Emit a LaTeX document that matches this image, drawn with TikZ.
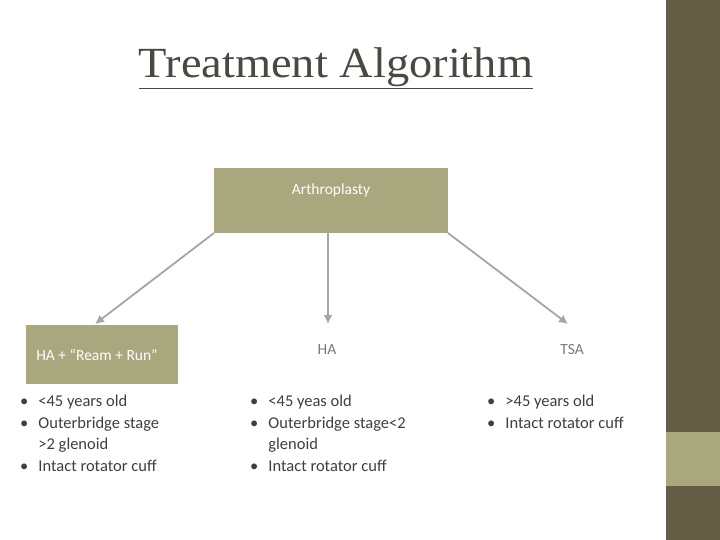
\documentclass[tikz,border=0pt]{standalone}
\usepackage{fontspec}
\setmainfont{Carlito}
\newfontfamily\titlefont{Liberation Serif}
\begin{document}
\begin{tikzpicture}[x=1pt,y=-1pt,
  box/.style={fill=tan,draw=none,inner sep=0pt},
  arr/.style={draw=gray!70,line width=1.8pt,-{Latex[length=9pt,width=9pt]}},
  lbl/.style={text=white,font=\fontsize{15.5}{18}\selectfont},
  blt/.style={text=txt,font=\fontsize{16.5}{21.7}\selectfont,align=left,anchor=north west,inner sep=0pt}]
\usetikzlibrary{arrows.meta}
\definecolor{tan}{HTML}{A9A77D}
\definecolor{dark}{HTML}{655D45}
\definecolor{txt}{HTML}{3F3F3F}
\useasboundingbox (0,0) rectangle (720,540);
\fill[white] (0,0) rectangle (720,540);
\fill[dark] (666,0) rectangle (720,540);
\fill[tan] (666,432) rectangle (720,486);
\node[text=txt!70!dark,font=\titlefont\fontsize{43}{48}\selectfont,inner sep=0pt,xscale=1.08] (title) at (336,68) {\underline{Treatment Algorithm}};
\path[box] (214,168) rectangle (448,233);
\node[lbl] (art) at (331,190) {Arthroplasty};
\coordinate (a1) at (214,233); \coordinate (a2) at (328,233); \coordinate (a3) at (448,233);
\path[box] (26,325) rectangle (178,384);
\node[lbl] (ha1) at (97,355) {HA + “Ream + Run”};
\node[lbl,text=txt!70] (ha2) at (327,350) {HA};
\node[lbl,text=txt!70] (tsa) at (572,350) {TSA};
\coordinate (t1) at (95,324); \coordinate (t2) at (328,324); \coordinate (t3) at (568,324);
\draw[arr] (a1) -- (t1);
\draw[arr] (a2) -- (t2);
\draw[arr] (a3) -- (t3);
\node[blt] (b1) at (20,391) {\begin{tabular}{@{}l@{\hspace{10pt}}l@{}}•&<45 years old\\•&Outerbridge stage\\&>2 glenoid\\•&Intact rotator cuff\end{tabular}};
\node[blt] (b2) at (250,391) {\begin{tabular}{@{}l@{\hspace{10pt}}l@{}}•&<45 yeas old\\•&Outerbridge stage<2\\&glenoid\\•&Intact rotator cuff\end{tabular}};
\node[blt] (b3) at (487,391) {\begin{tabular}{@{}l@{\hspace{10pt}}l@{}}•&>45 years old\\•&Intact rotator cuff\end{tabular}};
\end{tikzpicture}
\end{document}
